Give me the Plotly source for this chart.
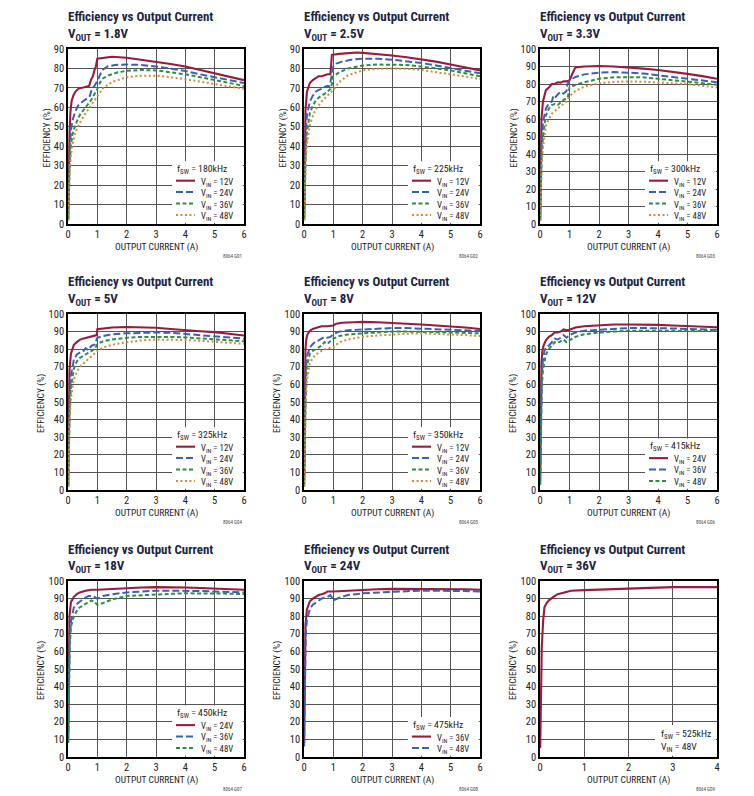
import plotly.graph_objects as go

# ---------------- DATA ----------------
# Panel 1: VOUT = 1.8V, fSW = 180kHz
p1_v12_x = [0.005, 0.02, 0.05, 0.08, 0.12, 0.18, 0.25, 0.35, 0.5, 0.65, 0.72, 0.78, 0.85, 0.9, 0.95, 1.0, 1.2, 1.5, 2.0, 2.5, 3.0, 3.5, 4.0, 4.5, 5.0, 5.5, 6.0]
p1_v12_y = [2, 25, 45, 57, 63, 66, 68, 69.5, 70, 70.5, 71, 74, 76, 79, 81, 85, 85.5, 86, 85.5, 84.5, 83.5, 82.3, 81, 79.3, 77.5, 75.8, 74]
p1_v24_x = [0.005, 0.03, 0.06, 0.1, 0.15, 0.25, 0.35, 0.5, 0.65, 0.75, 0.8, 0.9, 1.0, 1.1, 1.2, 1.35, 1.6, 2.0, 2.5, 3.0, 3.5, 4.0, 4.5, 5.0, 5.5, 6.0]
p1_v24_y = [2, 25, 38, 48, 53, 58, 61, 63, 64.5, 66, 69, 71, 73.5, 77, 79.5, 81, 81.8, 82, 81.8, 81, 80, 78.7, 77, 75.5, 74, 72.5]
p1_v36_x = [0.005, 0.03, 0.06, 0.1, 0.15, 0.25, 0.4, 0.6, 0.8, 1.0, 1.1, 1.2, 1.4, 1.7, 2.0, 2.5, 3.0, 3.5, 4.0, 4.5, 5.0, 5.5, 6.0]
p1_v36_y = [2, 20, 32, 40, 46, 51, 56, 60, 64, 69.5, 73, 75, 76.5, 78, 78.8, 79.2, 79, 78, 77, 75.5, 74, 72.5, 71]
p1_v48_x = [0.005, 0.03, 0.06, 0.1, 0.15, 0.25, 0.4, 0.6, 0.8, 1.0, 1.2, 1.5, 2.0, 2.5, 3.0, 3.5, 4.0, 4.5, 5.0, 5.5, 6.0]
p1_v48_y = [2, 17, 27, 35, 41, 47, 52, 57, 61.5, 66, 70, 73, 75.5, 76.3, 76.3, 75.5, 74.5, 73.3, 72, 70.7, 69.5]

# Panel 2: VOUT = 2.5V, fSW = 225kHz
p2_v12_x = [0.005, 0.02, 0.05, 0.1, 0.15, 0.2, 0.3, 0.4, 0.5, 0.6, 0.7, 0.8, 0.9, 0.95, 1.2, 1.5, 1.8, 2.0, 2.5, 3.0, 3.5, 4.0, 4.5, 5.0, 5.5, 6.0]
p2_v12_y = [2, 35, 58, 68, 70.5, 72.5, 74, 75, 76, 76, 76.5, 77, 77, 87, 87.5, 88, 88.2, 88, 87.5, 86.7, 85.8, 84.8, 83.5, 82, 80.5, 79]
p2_v24_x = [0.005, 0.03, 0.06, 0.1, 0.15, 0.2, 0.3, 0.4, 0.5, 0.6, 0.7, 0.8, 0.85, 0.9, 1.0, 1.1, 1.3, 1.6, 2.0, 2.5, 3.0, 3.5, 4.0, 4.5, 5.0, 5.5, 6.0]
p2_v24_y = [2, 30, 47, 56, 60, 63, 66, 68, 69, 69.5, 70.5, 71, 70.5, 73, 81, 82.5, 83.5, 84.5, 85, 85, 84.5, 83.8, 82.8, 81.5, 80, 78.8, 77.5]
p2_v36_x = [0.005, 0.03, 0.06, 0.1, 0.15, 0.2, 0.3, 0.4, 0.5, 0.6, 0.7, 0.8, 0.9, 0.95, 1.0, 1.2, 1.5, 2.0, 2.5, 3.0, 3.5, 4.0, 4.5, 5.0, 5.5, 6.0]
p2_v36_y = [2, 25, 38, 47, 53, 57, 61, 63.5, 65, 66, 67, 68, 69.5, 72, 76, 78, 80, 81.5, 82, 82, 81.8, 81, 80, 79, 77.5, 76]
p2_v48_x = [0.005, 0.03, 0.06, 0.1, 0.15, 0.2, 0.3, 0.4, 0.6, 0.8, 1.0, 1.2, 1.5, 2.0, 2.5, 3.0, 3.5, 4.0, 4.5, 5.0, 5.5, 6.0]
p2_v48_y = [2, 22, 33, 41, 47, 51, 55.5, 59, 63, 66, 69, 73, 76.5, 79, 79.8, 80, 79.8, 79.2, 78.2, 77, 75.8, 74.5]

# Panel 3: VOUT = 3.3V, fSW = 300kHz
p3_v12_x = [0.005, 0.02, 0.05, 0.1, 0.15, 0.2, 0.3, 0.4, 0.5, 0.6, 0.7, 0.8, 0.9, 1.0, 1.1, 1.2, 1.5, 2.0, 2.5, 3.0, 3.5, 4.0, 4.5, 5.0, 5.5, 6.0]
p3_v12_y = [2, 40, 60, 70, 74, 76.5, 78, 80, 80, 81, 80.8, 81.5, 81.5, 82, 86, 89.5, 90, 90.3, 90, 89.5, 88.8, 88, 87, 85.8, 84.5, 83]
p3_v24_x = [0.005, 0.03, 0.05, 0.1, 0.2, 0.3, 0.4, 0.45, 0.5, 0.6, 0.7, 0.8, 0.9, 0.93, 1.0, 1.2, 1.5, 2.0, 2.5, 3.0, 3.5, 4.0, 4.5, 5.0, 5.5, 6.0]
p3_v24_y = [2, 35, 45, 58, 66, 69, 70, 73, 72, 74, 75.5, 74.5, 76, 80, 82, 84, 85.5, 86.5, 86.8, 86.5, 86, 85, 84, 83, 82, 81]
p3_v36_x = [0.005, 0.03, 0.06, 0.1, 0.15, 0.2, 0.3, 0.4, 0.5, 0.6, 0.7, 0.8, 0.9, 0.95, 1.0, 1.2, 1.5, 2.0, 2.5, 3.0, 3.5, 4.0, 4.5, 5.0, 5.5, 6.0]
p3_v36_y = [2, 28, 40, 50, 57, 62, 66, 68, 68.5, 68, 69.5, 71, 71.5, 73, 78, 79.5, 81, 83, 83.8, 84, 83.8, 83, 82.3, 81.5, 80.5, 79.5]
p3_v48_x = [0.005, 0.03, 0.06, 0.1, 0.15, 0.2, 0.3, 0.4, 0.6, 0.8, 0.9, 1.0, 1.2, 1.5, 2.0, 2.5, 3.0, 3.5, 4.0, 4.5, 5.0, 5.5, 6.0]
p3_v48_y = [2, 25, 35, 43, 51, 56, 60, 63, 66, 68.5, 70, 73, 76, 78.5, 80.5, 81.2, 81.5, 81.3, 81, 80.5, 80, 79, 78]

# Panel 4: VOUT = 5V, fSW = 325kHz
p4_v12_x = [0.005, 0.02, 0.05, 0.1, 0.15, 0.2, 0.3, 0.4, 0.5, 0.6, 0.7, 0.8, 0.9, 0.98, 1.0, 1.5, 2.0, 2.5, 3.0, 3.5, 4.0, 4.5, 5.0, 5.5, 6.0]
p4_v12_y = [2, 45, 68, 77.5, 80.5, 82.5, 84, 85.3, 86, 86.5, 87, 87.2, 87.7, 88, 91.3, 92.3, 92.6, 92.6, 92.2, 91.5, 90.7, 90.2, 89.7, 88.8, 87.8]
p4_v24_x = [0.005, 0.03, 0.06, 0.1, 0.15, 0.2, 0.3, 0.4, 0.5, 0.6, 0.7, 0.8, 0.9, 0.95, 1.0, 1.2, 1.5, 2.0, 2.5, 3.0, 3.5, 4.0, 4.5, 5.0, 5.5, 6.0]
p4_v24_y = [2, 35, 55, 65, 71, 74, 77, 78, 78.5, 80.5, 79.5, 82, 82.5, 85, 86.5, 87.5, 88.5, 89, 89.3, 89.5, 89.3, 88.7, 88.2, 87.5, 86.8, 86]
p4_v36_x = [0.005, 0.03, 0.06, 0.1, 0.15, 0.2, 0.3, 0.4, 0.6, 0.8, 0.9, 1.0, 1.2, 1.5, 2.0, 2.5, 3.0, 3.5, 4.0, 4.5, 5.0, 5.5, 6.0]
p4_v36_y = [2, 30, 48, 58, 65, 69, 73, 75, 77, 79, 80, 83, 84.5, 85.5, 86.5, 87, 87.2, 87, 86.7, 86.2, 85.5, 85, 84.5]
p4_v48_x = [0.005, 0.03, 0.06, 0.1, 0.15, 0.2, 0.3, 0.4, 0.6, 0.8, 1.0, 1.2, 1.5, 2.0, 2.5, 3.0, 3.5, 4.0, 4.5, 5.0, 5.5, 6.0]
p4_v48_y = [2, 28, 42, 52, 59, 63, 67, 70, 73, 76, 79, 81, 82.5, 84, 85, 85.5, 85.5, 85.2, 84.8, 84.3, 83.7, 83]

# Panel 5: VOUT = 8V, fSW = 350kHz
p5_v12_x = [0.005, 0.02, 0.05, 0.08, 0.12, 0.2, 0.3, 0.4, 0.5, 0.6, 0.8, 1.0, 1.1, 1.3, 1.7, 2.0, 2.5, 3.0, 3.5, 4.0, 4.5, 5.0, 5.5, 6.0]
p5_v12_y = [5, 50, 80, 86, 88.5, 90.5, 91.5, 92, 92.5, 93, 93, 93.5, 94.5, 95, 95.3, 95.5, 95.3, 95, 94.5, 94, 93.5, 93, 92.3, 91.5]
p5_v24_x = [0.005, 0.03, 0.06, 0.1, 0.15, 0.2, 0.3, 0.4, 0.5, 0.6, 0.7, 0.8, 0.9, 1.0, 1.2, 1.5, 2.0, 2.5, 3.0, 3.5, 4.0, 4.5, 5.0, 5.5, 6.0]
p5_v24_y = [2, 45, 68, 76, 79, 81, 83, 84.5, 85, 86, 87, 86.5, 87, 88.5, 90, 90.8, 91.3, 91.7, 92, 92, 91.8, 91.3, 91, 90.7, 90.3]
p5_v36_x = [0.005, 0.03, 0.06, 0.1, 0.15, 0.2, 0.3, 0.4, 0.5, 0.6, 0.7, 0.8, 0.9, 1.0, 1.2, 1.5, 2.0, 2.5, 3.0, 3.5, 4.0, 4.5, 5.0, 5.5, 6.0]
p5_v36_y = [2, 38, 58, 70, 75, 77.5, 79, 80, 81, 82, 84, 83, 84.5, 86, 87.5, 88.3, 89, 89.5, 90, 90, 90, 89.7, 89.5, 89.2, 89]
p5_v48_x = [0.005, 0.03, 0.06, 0.1, 0.15, 0.2, 0.3, 0.4, 0.6, 0.8, 1.0, 1.2, 1.5, 2.0, 2.5, 3.0, 3.5, 4.0, 4.5, 5.0, 5.5, 6.0]
p5_v48_y = [2, 30, 50, 62, 68, 72, 75, 77, 79, 80.5, 81, 84, 85.5, 87, 87.8, 88.5, 88.8, 89, 88.8, 88.5, 88, 87.5]

# Panel 6: VOUT = 12V, fSW = 415kHz
p6_v24_x = [0.005, 0.02, 0.05, 0.08, 0.12, 0.2, 0.3, 0.4, 0.5, 0.6, 0.7, 0.8, 0.9, 1.0, 1.2, 1.5, 2.0, 2.5, 3.0, 3.5, 4.0, 4.5, 5.0, 5.5, 6.0]
p6_v24_y = [5, 45, 72, 79, 82, 85, 87, 88, 89.5, 89.5, 90, 91.2, 90.7, 91, 92.3, 93, 93.7, 94, 94, 94, 93.8, 93.5, 93.3, 93, 92.5]
p6_v36_x = [0.005, 0.03, 0.06, 0.1, 0.15, 0.2, 0.3, 0.4, 0.5, 0.6, 0.7, 0.8, 0.9, 1.0, 1.2, 1.5, 2.0, 2.5, 3.0, 3.5, 4.0, 4.5, 5.0, 5.5, 6.0]
p6_v36_y = [3, 45, 65, 74, 79, 81, 82, 84, 86, 85.5, 86.5, 88, 86.5, 88, 89.5, 90.5, 91, 91.5, 92, 92, 92, 91.8, 91.5, 91.3, 91]
p6_v48_x = [0.005, 0.03, 0.06, 0.1, 0.15, 0.2, 0.3, 0.4, 0.5, 0.6, 0.7, 0.8, 0.9, 1.0, 1.2, 1.5, 2.0, 2.5, 3.0, 3.5, 4.0, 4.5, 5.0, 5.5, 6.0]
p6_v48_y = [3, 40, 58, 68, 74, 77, 80, 82, 84, 83.5, 84.5, 85.5, 84, 85, 87, 88.5, 89.5, 90, 90.5, 90.5, 90.5, 90.5, 90.5, 90.4, 90.3]

# Panel 7: VOUT = 18V, fSW = 450kHz
p7_v24_x = [0.005, 0.02, 0.05, 0.1, 0.15, 0.2, 0.3, 0.4, 0.6, 0.8, 1.0, 1.5, 2.0, 2.5, 3.0, 3.5, 4.0, 4.5, 5.0, 5.5, 6.0]
p7_v24_y = [10, 55, 80, 88, 90, 91, 92.5, 93.5, 94.5, 95, 95, 95.5, 96, 96.3, 96.5, 96.5, 96.3, 96, 95.7, 95.3, 95]
p7_v36_x = [0.005, 0.03, 0.06, 0.1, 0.15, 0.2, 0.3, 0.4, 0.5, 0.6, 0.7, 0.8, 0.9, 1.0, 1.1, 1.2, 1.5, 2.0, 2.5, 3.0, 3.5, 4.0, 4.5, 5.0, 5.5, 6.0]
p7_v36_y = [8, 50, 68, 77, 82, 85, 87, 88.5, 89.5, 90.5, 91.5, 91.5, 91, 90, 90.5, 91.5, 92.5, 93.5, 94, 94.5, 94.5, 94.5, 94.3, 94, 93.8, 93.5]
p7_v48_x = [0.005, 0.03, 0.06, 0.1, 0.15, 0.2, 0.3, 0.4, 0.5, 0.6, 0.7, 0.8, 0.9, 1.0, 1.2, 1.5, 2.0, 2.5, 3.0, 3.5, 4.0, 4.5, 5.0, 5.5, 6.0]
p7_v48_y = [8, 42, 62, 74, 78, 80, 83, 85, 86, 87, 88, 89, 88, 86.5, 87.5, 89.5, 91.5, 92, 92.5, 92.7, 93, 93, 93, 92.8, 92.5]

# Panel 8: VOUT = 24V, fSW = 475kHz
p8_v36_x = [0.005, 0.02, 0.05, 0.1, 0.15, 0.2, 0.3, 0.4, 0.5, 0.6, 0.7, 0.8, 1.0, 1.5, 2.0, 2.5, 3.0, 3.5, 4.0, 4.5, 5.0, 5.5, 6.0]
p8_v36_y = [8, 45, 75, 84, 87, 88.5, 90, 91, 92, 92.5, 93, 94, 94, 94.5, 95, 95.3, 95.5, 95.5, 95.5, 95.5, 95.5, 95.3, 95]
p8_v48_x = [0.005, 0.03, 0.06, 0.1, 0.15, 0.2, 0.3, 0.4, 0.5, 0.6, 0.7, 0.8, 0.9, 1.0, 1.2, 1.5, 2.0, 2.5, 3.0, 3.5, 4.0, 4.5, 5.0, 5.5, 6.0]
p8_v48_y = [6, 50, 70, 78, 82, 84, 86.5, 87.5, 89, 90, 90.5, 91, 92, 89, 90.5, 92, 93, 93.5, 94, 94.2, 94.5, 94.5, 94.5, 94.3, 94]

# Panel 9: VOUT = 36V, fSW = 525kHz
p9_v48_x = [0.005, 0.02, 0.04, 0.07, 0.1, 0.15, 0.2, 0.3, 0.4, 0.55, 0.7, 1.0, 1.5, 2.0, 2.5, 3.0, 3.5, 4.0]
p9_v48_y = [5, 40, 62, 77, 85, 87.5, 89, 91, 92.5, 93.5, 94.5, 94.8, 95.3, 95.8, 96.2, 96.5, 96.5, 96.5]

vout_labels = ["1.8V", "2.5V", "3.3V", "5V", "8V", "12V", "18V", "24V", "36V"]
fsw_labels = ["180kHz", "225kHz", "300kHz", "325kHz", "350kHz", "415kHz", "450kHz", "475kHz", "525kHz"]
fig_codes = ["G01", "G02", "G03", "G04", "G05", "G06", "G07", "G08", "G09"]
y_max = [90, 90, 100, 100, 100, 100, 100, 100, 100]
x_max = [6, 6, 6, 6, 6, 6, 6, 6, 4]

panels = [
    [("12V", p1_v12_x, p1_v12_y), ("24V", p1_v24_x, p1_v24_y), ("36V", p1_v36_x, p1_v36_y), ("48V", p1_v48_x, p1_v48_y)],
    [("12V", p2_v12_x, p2_v12_y), ("24V", p2_v24_x, p2_v24_y), ("36V", p2_v36_x, p2_v36_y), ("48V", p2_v48_x, p2_v48_y)],
    [("12V", p3_v12_x, p3_v12_y), ("24V", p3_v24_x, p3_v24_y), ("36V", p3_v36_x, p3_v36_y), ("48V", p3_v48_x, p3_v48_y)],
    [("12V", p4_v12_x, p4_v12_y), ("24V", p4_v24_x, p4_v24_y), ("36V", p4_v36_x, p4_v36_y), ("48V", p4_v48_x, p4_v48_y)],
    [("12V", p5_v12_x, p5_v12_y), ("24V", p5_v24_x, p5_v24_y), ("36V", p5_v36_x, p5_v36_y), ("48V", p5_v48_x, p5_v48_y)],
    [("24V", p6_v24_x, p6_v24_y), ("36V", p6_v36_x, p6_v36_y), ("48V", p6_v48_x, p6_v48_y)],
    [("24V", p7_v24_x, p7_v24_y), ("36V", p7_v36_x, p7_v36_y), ("48V", p7_v48_x, p7_v48_y)],
    [("36V", p8_v36_x, p8_v36_y), ("48V", p8_v48_x, p8_v48_y)],
    [("48V", p9_v48_x, p9_v48_y)],
]

# ---------------- STYLE ----------------
W, H = 754, 796
styles = [
    dict(color="#9c1a3d", width=2.1, dash="solid"),
    dict(color="#3862b4", width=2.0, dash="7px,3px"),
    dict(color="#2f8d45", width=2.0, dash="4px,2.5px"),
    dict(color="#d48a3a", width=2.0, dash="2px,2.5px"),
]
col_l = [68, 304, 540]
col_r = [244, 480, 717]
row_t = [49, 314, 581]
row_b = [224, 490, 757]

FONT = "Roboto Condensed, Liberation Sans Narrow, Roboto, Liberation Sans, sans-serif"
TITLE_COLOR = "#1d2440"
TEXT_COLOR = "#222222"
LEG_SIZE = 8.8
LEG_STEP = 1.3 * LEG_SIZE  # plotly line spacing for multi-line annotations

def px(x):
    return x / W

def py(y):
    return 1 - y / H

fig = go.Figure()
layout = dict(
    width=W, height=H, margin=dict(l=0, r=0, t=0, b=0, autoexpand=False),
    paper_bgcolor="white", plot_bgcolor="white", showlegend=False,
    font=dict(family=FONT, color=TEXT_COLOR),
)
shapes = []
annotations = []

for i, series in enumerate(panels):
    r, c = divmod(i, 3)
    L, R, T, B = col_l[c], col_r[c], row_t[r], row_b[r]
    n = i + 1
    xa = "x" if n == 1 else f"x{n}"
    ya = "y" if n == 1 else f"y{n}"
    xk = "xaxis" if n == 1 else f"xaxis{n}"
    yk = "yaxis" if n == 1 else f"yaxis{n}"
    common = dict(
        showgrid=True, gridcolor="#555555", gridwidth=1.4, zeroline=False,
        showline=True, linecolor="black", linewidth=1.5, mirror=True,
        ticks="", tickfont=dict(size=10.5, color=TEXT_COLOR, family=FONT),
        fixedrange=True, automargin=False,
    )
    layout[xk] = dict(domain=[px(L), px(R)], anchor=ya, range=[0, x_max[i]], dtick=1, **common)
    layout[yk] = dict(domain=[py(B), py(T)], anchor=xa, range=[0, y_max[i]], dtick=10, **common)

    for k, (vin, xs, ys) in enumerate(series):
        st = styles[k]
        fig.add_trace(go.Scatter(
            x=xs, y=ys, mode="lines", name=f"VIN = {vin}",
            line=dict(color=st["color"], width=st["width"], dash=st["dash"]),
            xaxis=xa, yaxis=ya, hoverinfo="skip",
        ))

    # titles
    annotations.append(dict(
        x=px(L - 2), y=py(T - 32), xref="paper", yref="paper", xanchor="left", yanchor="middle",
        text="<b>Efficiency vs Output Current</b>", showarrow=False,
        font=dict(size=13, color=TITLE_COLOR, family=FONT),
    ))
    annotations.append(dict(
        x=px(L - 2), y=py(T - 15), xref="paper", yref="paper", xanchor="left", yanchor="middle",
        text=f"<b>V<sub>OUT</sub> = {vout_labels[i]}</b>", showarrow=False,
        font=dict(size=13, color=TITLE_COLOR, family=FONT),
    ))
    # axis titles
    annotations.append(dict(
        x=px((L + R) / 2), y=py(B + 23), xref="paper", yref="paper", xanchor="center", yanchor="middle",
        text="OUTPUT CURRENT (A)", showarrow=False, font=dict(size=9.5, color=TEXT_COLOR, family=FONT),
    ))
    annotations.append(dict(
        x=px(L - (22 if y_max[i] == 90 else 27)), y=py((T + B) / 2 + 2), xref="paper", yref="paper",
        xanchor="center", yanchor="middle", textangle=-90,
        text="EFFICIENCY (%)", showarrow=False, font=dict(size=9.5, color=TEXT_COLOR, family=FONT),
    ))
    # figure code
    annotations.append(dict(
        x=px(R), y=py(B + 32), xref="paper", yref="paper", xanchor="right", yanchor="middle",
        text=f"8064 {fig_codes[i]}", showarrow=False, font=dict(size=5, color="#444444", family=FONT),
    ))

    # legend box
    if i == 8:
        box_l, top = R - 62, B - 32
        shapes.append(dict(type="rect", xref="paper", yref="paper", layer="above",
                           x0=px(box_l), x1=px(R - 1.2), y0=py(B - 1.2), y1=py(top),
                           fillcolor="white", line=dict(width=0)))
        annotations.append(dict(x=px(box_l + 4), y=py(B - 16.5), xref="paper", yref="paper",
                                xanchor="left", yanchor="middle", showarrow=False, align="left",
                                text=f"f<sub>SW</sub> = {fsw_labels[i]}<br>V<sub>IN</sub> = {series[0][0]}",
                                font=dict(size=9.8, color=TEXT_COLOR, family=FONT)))
    else:
        ns = len(series)
        line_y = [B - 8 - LEG_STEP * (ns - 1 - k) for k in range(ns)]
        fsw_y = line_y[0] - 12.5
        top = fsw_y - 8
        box_l = R - 72
        shapes.append(dict(type="rect", xref="paper", yref="paper", layer="above",
                           x0=px(box_l), x1=px(R - 1.2), y0=py(B - 1.2), y1=py(top),
                           fillcolor="white", line=dict(width=0)))
        annotations.append(dict(x=px(box_l + 3), y=py(fsw_y), xref="paper", yref="paper",
                                xanchor="left", yanchor="middle", showarrow=False,
                                text=f"f<sub>SW</sub> = {fsw_labels[i]}",
                                font=dict(size=9.8, color=TEXT_COLOR, family=FONT)))
        for k in range(ns):
            st = styles[k]
            shapes.append(dict(type="line", xref="paper", yref="paper", layer="above",
                               x0=px(R - 68), x1=px(R - 49), y0=py(line_y[k] - 1), y1=py(line_y[k] - 1),
                               line=dict(color=st["color"], width=st["width"], dash=st["dash"])))
        block = "<br>".join(f"V<sub>IN</sub> = {vin}" for vin, _, _ in series)
        annotations.append(dict(x=px(R - 45), y=py(sum(line_y) / ns + 0.8), xref="paper", yref="paper",
                                xanchor="left", yanchor="middle", showarrow=False, align="left",
                                text=block, font=dict(size=LEG_SIZE, color=TEXT_COLOR, family=FONT)))

layout["shapes"] = shapes
layout["annotations"] = annotations
fig.update_layout(**layout)
fig.write_html(
    "out.html",
    config={"displayModeBar": False},
    post_script="document.body.style.margin='0px';document.body.style.overflow='hidden';",
)
